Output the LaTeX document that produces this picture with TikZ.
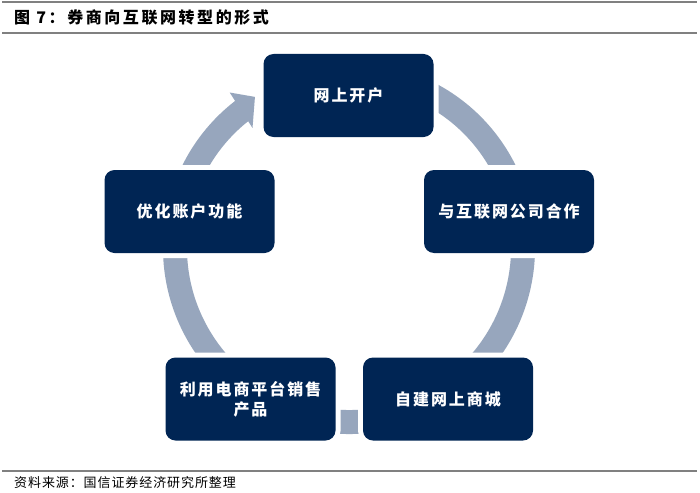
\documentclass[tikz,border=0pt]{standalone}
\usepackage{fontspec}
\usetikzlibrary{calc}
\newfontfamily\cjk{Noto Sans CJK SC}[LetterSpace=12]
\newfontfamily\cjktitle{Noto Sans CJK SC}[LetterSpace=16]
\newfontfamily\cjksrc{Noto Sans CJK SC}[LetterSpace=7]
\definecolor{navy}{RGB}{0,37,84}
\definecolor{ringc}{RGB}{151,166,189}
\definecolor{rulec}{RGB}{128,128,128}
\begin{document}
\begin{tikzpicture}[x=1pt,y=-1pt,
  box/.style={fill=navy, rounded corners=10pt, minimum width=170pt, minimum height=83pt,
    inner sep=0pt, text=white, font=\cjk\bfseries\fontsize{16}{20}\selectfont, align=center,
    preaction={draw=white, line width=10pt}},
  ringline/.style={draw=ringc, line width=24pt},
  rule/.style={draw=rulec, line width=1.5pt}]
\useasboundingbox[fill=white] (0,0) rectangle (700,492);
% rules
\coordinate (r1a) at (2,2); \coordinate (r1b) at (697,2);
\coordinate (r2a) at (2,33); \coordinate (r2b) at (697,33);
\coordinate (r3a) at (2,471); \coordinate (r3b) at (697,471);
\draw[rule] (r1a) -- (r1b);
\draw[rule] (r2a) -- (r2b);
\draw[rule] (r3a) -- (r3b);
% title and source
\node[anchor=west, inner sep=0pt, font=\cjktitle\bfseries\fontsize{16}{20}\selectfont] (title) at (14,17) {图 7：券商向互联网转型的形式};
\node[anchor=west, inner sep=0pt, font=\cjksrc\fontsize{13}{16}\selectfont] (src) at (14,483) {资料来源：国信证券经济研究所整理};
% ring
\coordinate (C) at (349,248);
\draw[ringline] ($(C)+(-118:174)$) arc[start angle=-118, end angle=233, radius=174];
\fill[ringc] ($(C)+(-127.5:196)$) -- ($(C)+(-121.9:178)$) -- ($(C)+(-128.8:154)$) -- cycle;
% boxes
\node[box] (b1) at (348.5,95.5) {网上开户};
\node[box] (b2) at (509,211.5) {与互联网公司合作};
\node[box] (b3) at (448,399) {自建网上商城};
\node[box] (b4) at (250.5,399) {利用电商平台销售\\产品};
\node[box] (b5) at (189.5,211.5) {优化账户功能};
\end{tikzpicture}
\end{document}
